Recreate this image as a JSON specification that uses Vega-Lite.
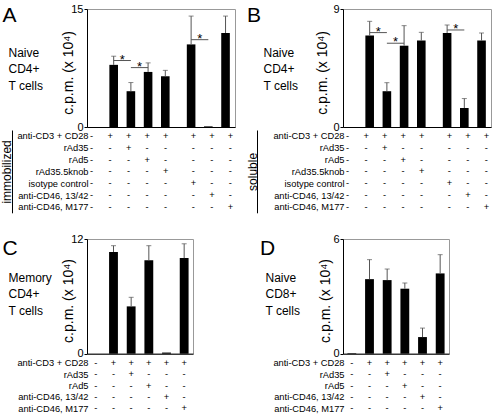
{
"$schema":"https://vega.github.io/schema/vega-lite/v6.json",
"padding":{"left":0,"top":2,"right":0,"bottom":0},
"autosize":{"type":"pad"},
"background":"white",
"config":{"font":"Liberation Sans","view":{"stroke":"#999","strokeWidth":1},
"axis":{"labelColor":"black","titleColor":"black","domainColor":"black","tickColor":"black","grid":false,"titleFontWeight":"normal"}},
"datasets":{
"barsA":[{"c":"none","m":0,"e":null},{"c":"CD3/CD28","m":7.9,"e":9.0},{"c":"rAd35","m":4.55,"e":5.65},{"c":"rAd5","m":7.0,"e":8.15},{"c":"rAd35.5knob","m":6.45,"e":7.2},{"c":"isotype","m":10.5,"e":14.1},{"c":"13/42","m":0.08,"e":null},{"c":"M177","m":11.95,"e":14.1}],
"sigA":[{"from":"CD3/CD28","to":"rAd35","mid":"s2","y":8.45},{"from":"rAd35","to":"rAd5","mid":"s3","y":7.55},{"from":"isotype","to":"13/42","mid":"s7","y":11.1}],
"barsB":[{"c":"none","m":0,"e":null},{"c":"CD3/CD28","m":6.97,"e":8.06},{"c":"rAd35","m":2.73,"e":3.38},{"c":"rAd5","m":6.2,"e":7.73},{"c":"rAd35.5knob","m":6.59,"e":7.22},{"c":"isotype","m":7.17,"e":7.78},{"c":"13/42","m":1.45,"e":2.17},{"c":"M177","m":6.59,"e":7.17}],
"sigB":[{"from":"CD3/CD28","to":"rAd35","mid":"s2","y":7.2},{"from":"rAd35","to":"rAd5","mid":"s3","y":6.39},{"from":"isotype","to":"13/42","mid":"s7","y":7.4}],
"barsC":[{"c":"none","m":0,"e":null},{"c":"CD3/CD28","m":10.64,"e":11.3},{"c":"rAd35","m":4.95,"e":5.9},{"c":"rAd5","m":9.77,"e":11.3},{"c":"13/42","m":0.12,"e":null},{"c":"M177","m":10.0,"e":11.5}],
"barsD":[{"c":"none","m":0.03,"e":null},{"c":"CD3/CD28","m":3.9,"e":4.92},{"c":"rAd35","m":3.85,"e":4.43},{"c":"rAd5","m":3.4,"e":3.7},{"c":"13/42","m":0.87,"e":1.34},{"c":"M177","m":4.2,"e":5.18}],
"tableAB":[
{"f":"anti-CD3 + CD28","c":"none","s":"-"},{"f":"anti-CD3 + CD28","c":"CD3/CD28","s":"+"},{"f":"anti-CD3 + CD28","c":"rAd35","s":"+"},{"f":"anti-CD3 + CD28","c":"rAd5","s":"+"},{"f":"anti-CD3 + CD28","c":"rAd35.5knob","s":"+"},{"f":"anti-CD3 + CD28","c":"isotype","s":"+"},{"f":"anti-CD3 + CD28","c":"13/42","s":"+"},{"f":"anti-CD3 + CD28","c":"M177","s":"+"},
{"f":"rAd35","c":"none","s":"-"},{"f":"rAd35","c":"CD3/CD28","s":"-"},{"f":"rAd35","c":"rAd35","s":"+"},{"f":"rAd35","c":"rAd5","s":"-"},{"f":"rAd35","c":"rAd35.5knob","s":"-"},{"f":"rAd35","c":"isotype","s":"-"},{"f":"rAd35","c":"13/42","s":"-"},{"f":"rAd35","c":"M177","s":"-"},
{"f":"rAd5","c":"none","s":"-"},{"f":"rAd5","c":"CD3/CD28","s":"-"},{"f":"rAd5","c":"rAd35","s":"-"},{"f":"rAd5","c":"rAd5","s":"+"},{"f":"rAd5","c":"rAd35.5knob","s":"-"},{"f":"rAd5","c":"isotype","s":"-"},{"f":"rAd5","c":"13/42","s":"-"},{"f":"rAd5","c":"M177","s":"-"},
{"f":"rAd35.5knob","c":"none","s":"-"},{"f":"rAd35.5knob","c":"CD3/CD28","s":"-"},{"f":"rAd35.5knob","c":"rAd35","s":"-"},{"f":"rAd35.5knob","c":"rAd5","s":"-"},{"f":"rAd35.5knob","c":"rAd35.5knob","s":"+"},{"f":"rAd35.5knob","c":"isotype","s":"-"},{"f":"rAd35.5knob","c":"13/42","s":"-"},{"f":"rAd35.5knob","c":"M177","s":"-"},
{"f":"isotype control","c":"none","s":"-"},{"f":"isotype control","c":"CD3/CD28","s":"-"},{"f":"isotype control","c":"rAd35","s":"-"},{"f":"isotype control","c":"rAd5","s":"-"},{"f":"isotype control","c":"rAd35.5knob","s":"-"},{"f":"isotype control","c":"isotype","s":"+"},{"f":"isotype control","c":"13/42","s":"-"},{"f":"isotype control","c":"M177","s":"-"},
{"f":"anti-CD46, 13/42","c":"none","s":"-"},{"f":"anti-CD46, 13/42","c":"CD3/CD28","s":"-"},{"f":"anti-CD46, 13/42","c":"rAd35","s":"-"},{"f":"anti-CD46, 13/42","c":"rAd5","s":"-"},{"f":"anti-CD46, 13/42","c":"rAd35.5knob","s":"-"},{"f":"anti-CD46, 13/42","c":"isotype","s":"-"},{"f":"anti-CD46, 13/42","c":"13/42","s":"+"},{"f":"anti-CD46, 13/42","c":"M177","s":"-"},
{"f":"anti-CD46, M177","c":"none","s":"-"},{"f":"anti-CD46, M177","c":"CD3/CD28","s":"-"},{"f":"anti-CD46, M177","c":"rAd35","s":"-"},{"f":"anti-CD46, M177","c":"rAd5","s":"-"},{"f":"anti-CD46, M177","c":"rAd35.5knob","s":"-"},{"f":"anti-CD46, M177","c":"isotype","s":"-"},{"f":"anti-CD46, M177","c":"13/42","s":"-"},{"f":"anti-CD46, M177","c":"M177","s":"+"}],
"tableCD":[
{"f":"anti-CD3 + CD28","c":"none","s":"-"},{"f":"anti-CD3 + CD28","c":"CD3/CD28","s":"+"},{"f":"anti-CD3 + CD28","c":"rAd35","s":"+"},{"f":"anti-CD3 + CD28","c":"rAd5","s":"+"},{"f":"anti-CD3 + CD28","c":"13/42","s":"+"},{"f":"anti-CD3 + CD28","c":"M177","s":"+"},
{"f":"rAd35","c":"none","s":"-"},{"f":"rAd35","c":"CD3/CD28","s":"-"},{"f":"rAd35","c":"rAd35","s":"+"},{"f":"rAd35","c":"rAd5","s":"-"},{"f":"rAd35","c":"13/42","s":"-"},{"f":"rAd35","c":"M177","s":"-"},
{"f":"rAd5","c":"none","s":"-"},{"f":"rAd5","c":"CD3/CD28","s":"-"},{"f":"rAd5","c":"rAd35","s":"-"},{"f":"rAd5","c":"rAd5","s":"+"},{"f":"rAd5","c":"13/42","s":"-"},{"f":"rAd5","c":"M177","s":"-"},
{"f":"anti-CD46, 13/42","c":"none","s":"-"},{"f":"anti-CD46, 13/42","c":"CD3/CD28","s":"-"},{"f":"anti-CD46, 13/42","c":"rAd35","s":"-"},{"f":"anti-CD46, 13/42","c":"rAd5","s":"-"},{"f":"anti-CD46, 13/42","c":"13/42","s":"+"},{"f":"anti-CD46, 13/42","c":"M177","s":"-"},
{"f":"anti-CD46, M177","c":"none","s":"-"},{"f":"anti-CD46, M177","c":"CD3/CD28","s":"-"},{"f":"anti-CD46, M177","c":"rAd35","s":"-"},{"f":"anti-CD46, M177","c":"rAd5","s":"-"},{"f":"anti-CD46, M177","c":"13/42","s":"-"},{"f":"anti-CD46, M177","c":"M177","s":"+"}]
},
"columns":2,
"spacing":{"row":3,"column":108},
"bounds":"flush",
"align":"each",
"resolve":{"scale":{"x":"independent","y":"independent"},"axis":{"x":"independent","y":"independent"}},
"concat":[
{"width":148,"height":118,"data":{"name":"barsA"},
"layer":[
{"layer":[
{"mark":{"type":"bar","color":"black"},"encoding":{
"x":{"field":"c","type":"nominal","scale":{"domain":["none","s1","CD3/CD28","s2","rAd35","s3","rAd5","s4","rAd35.5knob","s5","s6","isotype","s7","13/42","s8","M177"],"paddingInner":0,"paddingOuter":0.6},"axis":{"labels":false,"ticks":false,"title":["Naive","CD4+","T cells"],"titleX":-79,"titleY":-71,"titleAngle":0,"titleAlign":"left","titleBaseline":"alphabetic","titleFontSize":12,"titleLineHeight":16.5}},
"y":{"field":"m","type":"quantitative","scale":{"domain":[0,15],"nice":false},"axis":{"values":[0,5,10,15],"title":"c.p.m. (x 10⁴)","titleX":-18.4,"titleY":63.4,"titleAlign":"center","titleBaseline":"middle","titleAngle":-90,"titleFontSize":14,"labelFontSize":11,"tickSize":3,"labelPadding":1}}}},
{"transform":[{"filter":"isValid(datum.e)"}],"mark":{"type":"rule","color":"#555"},"encoding":{"x":{"field":"c","type":"nominal"},"y":{"field":"m","type":"quantitative"},"y2":{"field":"e"}}},
{"transform":[{"filter":"isValid(datum.e)"}],"mark":{"type":"tick","color":"#555","size":5,"thickness":1},"encoding":{"x":{"field":"c","type":"nominal"},"y":{"field":"e","type":"quantitative"}}},
{"data":{"name":"sigA"},"mark":{"type":"rule","color":"#555"},"encoding":{"x":{"field":"from","type":"nominal"},"x2":{"field":"to"},"y":{"field":"y","type":"quantitative"}}},
{"data":{"name":"sigA"},"mark":{"type":"text","text":"*","fontSize":13,"dy":-1,"fill":"black"},"encoding":{"x":{"field":"mid","type":"nominal"},"y":{"field":"y","type":"quantitative"}}}
]},
{"mark":{"type":"text","opacity":0},"encoding":{"y":{"field":"m","type":"quantitative","axis":{"orient":"left","labels":false,"ticks":false,"domain":false,"title":"A","titleX":-85,"titleY":12.4,"titleAngle":0,"titleAlign":"left","titleBaseline":"alphabetic","titleFontSize":21}}}}
],
"resolve":{"scale":{"y":"independent"},"axis":{"y":"independent"}}},
{"width":148,"height":118,"data":{"name":"barsB"},
"layer":[
{"layer":[
{"mark":{"type":"bar","color":"black"},"encoding":{
"x":{"field":"c","type":"nominal","scale":{"domain":["none","s1","CD3/CD28","s2","rAd35","s3","rAd5","s4","rAd35.5knob","s5","s6","isotype","s7","13/42","s8","M177"],"paddingInner":0,"paddingOuter":0.6},"axis":{"labels":false,"ticks":false,"title":["Naive","CD4+","T cells"],"titleX":-80,"titleY":-71,"titleAngle":0,"titleAlign":"left","titleBaseline":"alphabetic","titleFontSize":12,"titleLineHeight":16.5}},
"y":{"field":"m","type":"quantitative","scale":{"domain":[0,9],"nice":false},"axis":{"values":[0,3,6,9],"title":"c.p.m. (x 10⁴)","titleX":-21,"titleY":63.4,"titleAlign":"center","titleBaseline":"middle","titleAngle":-90,"titleFontSize":14,"labelFontSize":11,"tickSize":3,"labelPadding":1}}}},
{"transform":[{"filter":"isValid(datum.e)"}],"mark":{"type":"rule","color":"#555"},"encoding":{"x":{"field":"c","type":"nominal"},"y":{"field":"m","type":"quantitative"},"y2":{"field":"e"}}},
{"transform":[{"filter":"isValid(datum.e)"}],"mark":{"type":"tick","color":"#555","size":5,"thickness":1},"encoding":{"x":{"field":"c","type":"nominal"},"y":{"field":"e","type":"quantitative"}}},
{"data":{"name":"sigB"},"mark":{"type":"rule","color":"#555"},"encoding":{"x":{"field":"from","type":"nominal"},"x2":{"field":"to"},"y":{"field":"y","type":"quantitative"}}},
{"data":{"name":"sigB"},"mark":{"type":"text","text":"*","fontSize":13,"dy":-1,"fill":"black"},"encoding":{"x":{"field":"mid","type":"nominal"},"y":{"field":"y","type":"quantitative"}}}
]},
{"mark":{"type":"text","opacity":0},"encoding":{"y":{"field":"m","type":"quantitative","axis":{"orient":"left","labels":false,"ticks":false,"domain":false,"title":"B","titleX":-96.6,"titleY":12.4,"titleAngle":0,"titleAlign":"left","titleBaseline":"alphabetic","titleFontSize":21}}}}
],
"resolve":{"scale":{"y":"independent"},"axis":{"y":"independent"}}},
{"width":148,"height":82.8,"view":{"stroke":null},"data":{"name":"tableAB"},
"layer":[
{"mark":{"type":"text","fontSize":9.3,"fill":"black"},"encoding":{
"x":{"field":"c","type":"nominal","scale":{"domain":["none","s1","CD3/CD28","s2","rAd35","s3","rAd5","s4","rAd35.5knob","s5","s6","isotype","s7","13/42","s8","M177"],"paddingInner":0,"paddingOuter":0.6},"axis":null},
"y":{"field":"f","type":"nominal","scale":{"domain":["anti-CD3 + CD28","rAd35","rAd5","rAd35.5knob","isotype control","anti-CD46, 13/42","anti-CD46, M177"],"paddingInner":0,"paddingOuter":0},"axis":{"title":null,"domain":false,"ticks":false,"labelPadding":-1,"labelFontSize":9.3}},
"text":{"field":"s"}}},
{"mark":{"type":"text","opacity":0},"encoding":{
"y":{"field":"f","type":"nominal","scale":{"domain":["anti-CD3 + CD28","rAd35","rAd5","rAd35.5knob","isotype control","anti-CD46, 13/42","anti-CD46, M177"]},"axis":{"orient":"left","offset":75,"labels":false,"ticks":false,"domain":true,"title":"immobilized","titleFontSize":12,"titlePadding":-1}}}}
],
"resolve":{"scale":{"y":"independent"},"axis":{"y":"independent"}}},
{"width":148,"height":82.8,"view":{"stroke":null},"data":{"name":"tableAB"},
"layer":[
{"mark":{"type":"text","fontSize":9.3,"fill":"black"},"encoding":{
"x":{"field":"c","type":"nominal","scale":{"domain":["none","s1","CD3/CD28","s2","rAd35","s3","rAd5","s4","rAd35.5knob","s5","s6","isotype","s7","13/42","s8","M177"],"paddingInner":0,"paddingOuter":0.6},"axis":null},
"y":{"field":"f","type":"nominal","scale":{"domain":["anti-CD3 + CD28","rAd35","rAd5","rAd35.5knob","isotype control","anti-CD46, 13/42","anti-CD46, M177"],"paddingInner":0,"paddingOuter":0},"axis":{"title":null,"domain":false,"ticks":false,"labelPadding":-1,"labelFontSize":9.3}},
"text":{"field":"s"}}},
{"mark":{"type":"text","opacity":0},"encoding":{
"y":{"field":"f","type":"nominal","scale":{"domain":["anti-CD3 + CD28","rAd35","rAd5","rAd35.5knob","isotype control","anti-CD46, 13/42","anti-CD46, M177"]},"axis":{"orient":"left","offset":86,"labels":false,"ticks":false,"domain":true,"title":"soluble","titleFontSize":12,"titlePadding":-2}}}}
],
"resolve":{"scale":{"y":"independent"},"axis":{"y":"independent"}}},
{"width":148,"height":19.2,"view":{"stroke":null},"data":{"values":[]},"mark":"text","encoding":{}},
{"width":148,"height":19.2,"view":{"stroke":null},"data":{"values":[]},"mark":"text","encoding":{}},
{"width":106,"height":114.7,"data":{"name":"barsC"},
"layer":[
{"layer":[
{"mark":{"type":"bar","color":"black"},"encoding":{
"x":{"field":"c","type":"nominal","scale":{"domain":["none","CD3/CD28","rAd35","rAd5","13/42","M177"],"paddingInner":0.5,"paddingOuter":0.25},"axis":{"labels":false,"ticks":false,"title":["Memory","CD4+","T cells"],"titleX":-79,"titleY":-72.5,"titleAngle":0,"titleAlign":"left","titleBaseline":"alphabetic","titleFontSize":12,"titleLineHeight":16.5}},
"y":{"field":"m","type":"quantitative","scale":{"domain":[0,12],"nice":false},"axis":{"values":[0,4,8,12],"title":"c.p.m. (x 10⁴)","titleX":-18.4,"titleY":61.5,"titleAlign":"center","titleBaseline":"middle","titleAngle":-90,"titleFontSize":14,"labelFontSize":11,"tickSize":3,"labelPadding":1}}}},
{"transform":[{"filter":"isValid(datum.e)"}],"mark":{"type":"rule","color":"#555"},"encoding":{"x":{"field":"c","type":"nominal"},"y":{"field":"m","type":"quantitative"},"y2":{"field":"e"}}},
{"transform":[{"filter":"isValid(datum.e)"}],"mark":{"type":"tick","color":"#555","size":5,"thickness":1},"encoding":{"x":{"field":"c","type":"nominal"},"y":{"field":"e","type":"quantitative"}}}
]},
{"mark":{"type":"text","opacity":0},"encoding":{"y":{"field":"m","type":"quantitative","axis":{"orient":"left","labels":false,"ticks":false,"domain":false,"title":"C","titleX":-85,"titleY":15.4,"titleAngle":0,"titleAlign":"left","titleBaseline":"alphabetic","titleFontSize":21}}}}
],
"resolve":{"scale":{"y":"independent"},"axis":{"y":"independent"}}},
{"width":106,"height":114.7,"data":{"name":"barsD"},
"layer":[
{"layer":[
{"mark":{"type":"bar","color":"black"},"encoding":{
"x":{"field":"c","type":"nominal","scale":{"domain":["none","CD3/CD28","rAd35","rAd5","13/42","M177"],"paddingInner":0.5,"paddingOuter":0.25},"axis":{"labels":false,"ticks":false,"title":["Naive","CD8+","T cells"],"titleX":-78,"titleY":-72.5,"titleAngle":0,"titleAlign":"left","titleBaseline":"alphabetic","titleFontSize":12,"titleLineHeight":16.5}},
"y":{"field":"m","type":"quantitative","scale":{"domain":[0,6],"nice":false},"axis":{"values":[0,2,4,6],"title":"c.p.m. (x 10⁴)","titleX":-18,"titleY":61.5,"titleAlign":"center","titleBaseline":"middle","titleAngle":-90,"titleFontSize":14,"labelFontSize":11,"tickSize":3,"labelPadding":1}}}},
{"transform":[{"filter":"isValid(datum.e)"}],"mark":{"type":"rule","color":"#555"},"encoding":{"x":{"field":"c","type":"nominal"},"y":{"field":"m","type":"quantitative"},"y2":{"field":"e"}}},
{"transform":[{"filter":"isValid(datum.e)"}],"mark":{"type":"tick","color":"#555","size":5,"thickness":1},"encoding":{"x":{"field":"c","type":"nominal"},"y":{"field":"e","type":"quantitative"}}}
]},
{"mark":{"type":"text","opacity":0},"encoding":{"y":{"field":"m","type":"quantitative","axis":{"orient":"left","labels":false,"ticks":false,"domain":false,"title":"D","titleX":-83.4,"titleY":15.4,"titleAngle":0,"titleAlign":"left","titleBaseline":"alphabetic","titleFontSize":21}}}}
],
"resolve":{"scale":{"y":"independent"},"axis":{"y":"independent"}}},
{"width":106,"height":57,"view":{"stroke":null},"data":{"name":"tableCD"},
"mark":{"type":"text","fontSize":9.3,"fill":"black"},"encoding":{
"x":{"field":"c","type":"nominal","scale":{"domain":["none","CD3/CD28","rAd35","rAd5","13/42","M177"],"paddingInner":0.5,"paddingOuter":0.25},"axis":null},
"y":{"field":"f","type":"nominal","scale":{"domain":["anti-CD3 + CD28","rAd35","rAd5","anti-CD46, 13/42","anti-CD46, M177"],"paddingInner":0,"paddingOuter":0.1},"axis":{"title":null,"domain":false,"ticks":false,"labelPadding":-1,"labelFontSize":9.3}},
"text":{"field":"s"}}},
{"width":106,"height":57,"view":{"stroke":null},"data":{"name":"tableCD"},
"mark":{"type":"text","fontSize":9.3,"fill":"black"},"encoding":{
"x":{"field":"c","type":"nominal","scale":{"domain":["none","CD3/CD28","rAd35","rAd5","13/42","M177"],"paddingInner":0.5,"paddingOuter":0.25},"axis":null},
"y":{"field":"f","type":"nominal","scale":{"domain":["anti-CD3 + CD28","rAd35","rAd5","anti-CD46, 13/42","anti-CD46, M177"],"paddingInner":0,"paddingOuter":0.1},"axis":{"title":null,"domain":false,"ticks":false,"labelPadding":-1,"labelFontSize":9.3}},
"text":{"field":"s"}}}
]
}
